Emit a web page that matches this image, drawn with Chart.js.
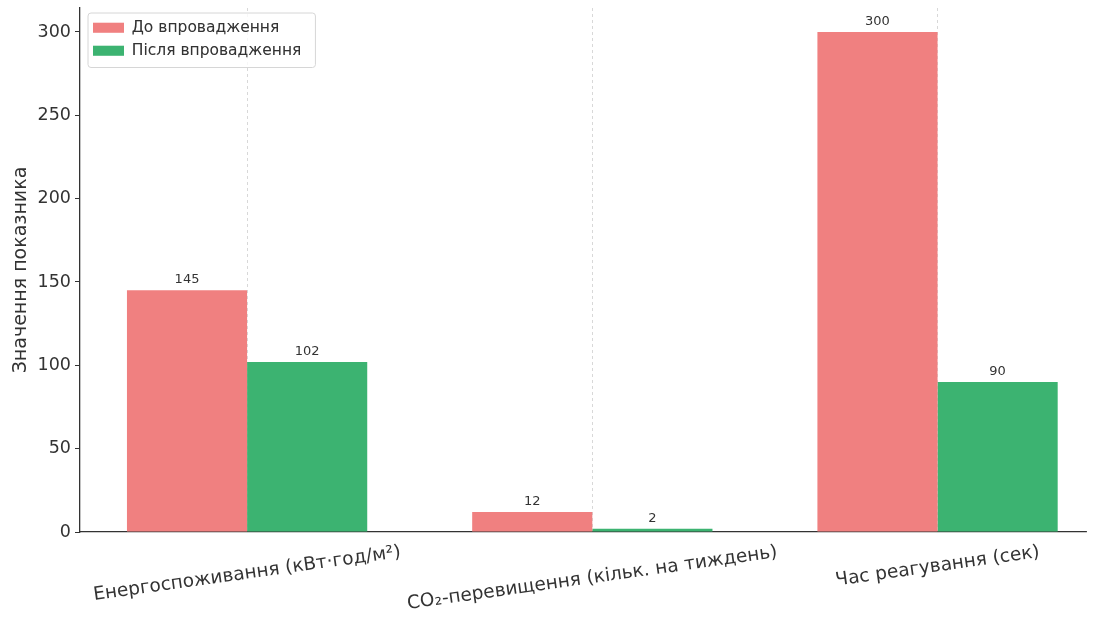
<!DOCTYPE html>
<html>
<head>
<meta charset="utf-8">
<script src="https://cdn.jsdelivr.net/npm/chart.js@4"></script>
<style>
  body { margin: 0; background: #fff; overflow: hidden; }
  #wrap { width: 1098px; height: 618px; }
</style>
</head>
<body>
<div id="wrap"><canvas id="chart"></canvas></div>
<script>
const categories = ['Енергоспоживання (кВт·год/м²)', 'CO₂-перевищення (кільк. на тиждень)', 'Час реагування (сек)']
const seriesNames = ['До впровадження', 'Після впровадження']
const beforeValues = [145, 12, 300]
const afterValues = [102, 2, 90]
const yTicks = [0, 50, 100, 150, 200, 250, 300]

const FONT = "'DejaVu Sans', sans-serif"
const TEXT = '#333'

// підписи значень над стовпцями
const valueLabels = {
  id: 'valueLabels',
  afterDatasetsDraw(chart) {
    const ctx = chart.ctx
    ctx.save()
    ctx.font = '13px ' + FONT
    ctx.fillStyle = TEXT
    ctx.textAlign = 'center'
    ctx.textBaseline = 'bottom'
    chart.data.datasets.forEach((ds, di) => {
      chart.getDatasetMeta(di).data.forEach((bar, i) => {
        ctx.fillText(String(ds.data[i].y), bar.x, bar.y - 4)
      })
    })
    ctx.restore()
  }
}

// нахилені підписи категорій, центровані на поділці (як у matplotlib)
const xLabels = {
  id: 'xLabels',
  afterDraw(chart) {
    const ctx = chart.ctx
    const sx = chart.scales.x
    const size = 18.5
    const ang = 8 * Math.PI / 180
    ctx.save()
    ctx.font = size + 'px ' + FONT
    ctx.fillStyle = TEXT
    ctx.textAlign = 'center'
    ctx.textBaseline = 'middle'
    categories.forEach((c, i) => {
      const w = ctx.measureText(c).width
      const half = (w * Math.sin(ang) + size * Math.cos(ang)) / 2
      ctx.save()
      ctx.translate(sx.getPixelForValue(i), chart.chartArea.bottom + 11 + half)
      ctx.rotate(-ang)
      ctx.fillText(c, 0, 0)
      ctx.restore()
    })
    ctx.restore()
  }
}

// легенда трохи зсунута всередину + рамка
const legendFrame = {
  id: 'legendFrame',
  afterLayout(chart) {
    const lg = chart.legend
    lg.left += 5.5; lg.right += 5.5
    lg.top = chart.chartArea.top + 4.5
    lg.bottom = lg.top + lg.height
  },
  afterDraw(chart) {
    const boxes = chart.legend.legendHitBoxes
    if (!boxes || !boxes.length) return
    const l = Math.min(...boxes.map(b => b.left)) - 5
    const t = Math.min(...boxes.map(b => b.top)) - 7
    const r = Math.max(...boxes.map(b => b.left + b.width)) + 14
    const b = Math.max(...boxes.map(b => b.top + b.height)) + 9
    const ctx = chart.ctx
    ctx.save()
    ctx.beginPath()
    ctx.roundRect(l, t, r - l, b - t, 3)
    ctx.fillStyle = 'rgba(255,255,255,0.8)'
    ctx.fill()
    ctx.strokeStyle = '#d6d6d6'
    ctx.lineWidth = 1
    ctx.stroke()
    ctx.restore()
    chart.legend.draw()
  }
}

new Chart(document.getElementById('chart'), {
  type: 'bar',
  data: {
    datasets: [
      {
        label: seriesNames[0],
        data: beforeValues.map((v, i) => ({ x: i, y: v })),
        backgroundColor: '#f08080'
      },
      {
        label: seriesNames[1],
        data: afterValues.map((v, i) => ({ x: i, y: v })),
        backgroundColor: '#3cb371'
      }
    ]
  },
  options: {
    responsive: true,
    maintainAspectRatio: false,
    animation: false,
    layout: { padding: { top: 8, right: 12, left: 0, bottom: 0 } },
    datasets: { bar: { categoryPercentage: 0.696, barPercentage: 1 } },
    scales: {
      x: {
        type: 'linear',
        offset: false,
        min: -0.484,
        max: 2.43,
        afterBuildTicks: s => { s.ticks = categories.map((_, i) => ({ value: i })) },
        afterFit: s => { s.height = 86 },
        ticks: { display: false },
        grid: { offset: false, color: '#cfcfcf', lineWidth: 0.8, drawTicks: false },
        border: { color: '#333', width: 1.3, dash: [3, 3] }
      },
      y: {
        min: 0,
        max: 314.4,
        afterBuildTicks: s => { s.ticks = yTicks.map(v => ({ value: v })) },
        afterFit: s => { s.width = 80; s.paddingTop = 0; s.paddingBottom = 0 },
        ticks: { font: { size: 17.5, family: FONT }, color: TEXT, padding: 4 },
        grid: { drawOnChartArea: false, color: '#333', tickLength: 5, lineWidth: 1 },
        border: { color: '#333', width: 1.3 },
        title: { display: true, text: 'Значення показника', font: { size: 19, family: FONT }, color: TEXT, padding: 10 }
      }
    },
    plugins: {
      legend: {
        position: 'chartArea',
        align: 'start',
        labels: { boxWidth: 31, boxHeight: 10, padding: 7.5, font: { size: 15.5, family: FONT }, color: TEXT }
      },
      tooltip: { enabled: false }
    }
  },
  plugins: [valueLabels, xLabels, legendFrame]
})
</script>
</body>
</html>
